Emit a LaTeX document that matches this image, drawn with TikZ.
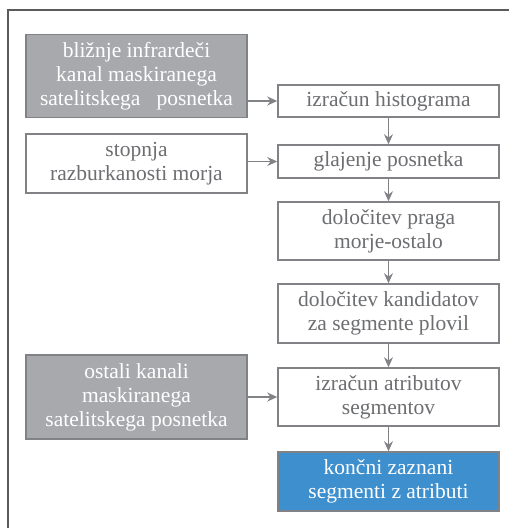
\documentclass[tikz,border=0pt]{standalone}
\usepackage{fontspec}
\setmainfont{Liberation Serif}
\usetikzlibrary{arrows.meta}
\definecolor{bordergray}{HTML}{808285}
\definecolor{txtgray}{HTML}{6D6E71}
\definecolor{fillgray}{HTML}{A7A9AC}
\definecolor{fillblue}{HTML}{3D8FCE}
\begin{document}
\begin{tikzpicture}[x=1pt,y=-1pt,
  box/.style={draw=bordergray, line width=1.5pt, minimum width=221pt, inner sep=0pt,
    align=center, font=\fontsize{21.5}{24}\selectfont},
  whitebox/.style={box, fill=white, text=txtgray},
  graybox/.style={box, fill=fillgray, text=white},
  bluebox/.style={box, fill=fillblue, text=white},
  arr/.style={draw=bordergray, line width=1.5pt, -{Stealth[length=10pt,width=9pt]}}]
\useasboundingbox (0,0) rectangle (509,528);
\draw[bordergray!70!black, line width=1.2pt] (509,10) -- (8,10) -- (8,528);
\node[graybox, minimum height=83pt] (b1) at (136.5,76) {bližnje infrardeči\\kanal maskiranega\\satelitskega\ \ \ posnetka};
\node[whitebox, minimum height=32pt] (b2) at (388.5,101) {izračun histograma};
\node[whitebox, minimum height=59pt] (b3) at (136.5,163.5) {stopnja\\razburkanosti morja};
\node[whitebox, minimum height=33pt] (b4) at (388.5,161.5) {glajenje posnetka};
\node[whitebox, minimum height=58pt] (b5) at (388.5,231) {določitev praga\\morje-ostalo};
\node[whitebox, minimum height=59pt] (b6) at (388.5,313.5) {določitev kandidatov\\za segmente plovil};
\node[graybox, minimum height=84pt] (b7) at (136.5,397) {ostali kanali\\maskiranega\\satelitskega posnetka};
\node[whitebox, minimum height=58pt] (b8) at (388.5,397) {izračun atributov\\segmentov};
\node[bluebox, minimum height=59pt] (b9) at (388.5,481.5) {končni zaznani\\segmenti z atributi};
\draw[arr] (b1.east |- b2.west) -- (b2.west);
\draw[arr] (b3.east |- b4.west) -- (b4.west);
\draw[arr] (b7.east |- b8.west) -- (b8.west);
\draw[arr] (b2) -- (b4);
\draw[arr] (b4) -- (b5);
\draw[arr] (b5) -- (b6);
\draw[arr] (b6) -- (b8);
\draw[arr] (b8) -- (b9);
\end{tikzpicture}
\end{document}
